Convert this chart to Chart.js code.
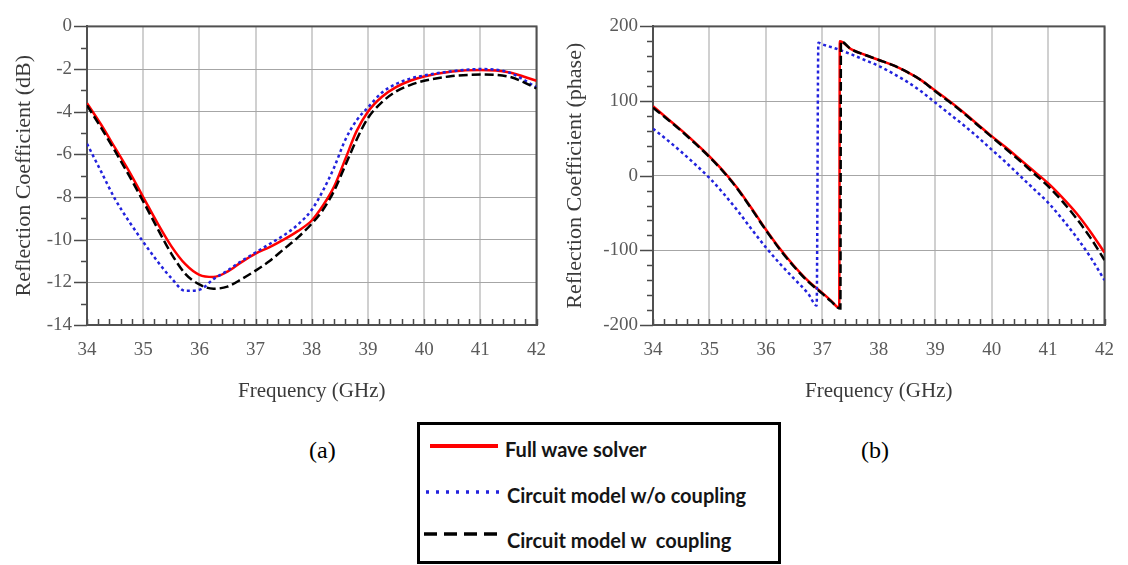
<!DOCTYPE html>
<html>
<head>
<meta charset="utf-8">
<script src="https://cdn.jsdelivr.net/npm/chart.js@4.4.1/dist/chart.umd.min.js"></script>
<style>
  html, body { margin: 0; padding: 0; background: #fff; }
  body { width: 1128px; height: 565px; position: relative; overflow: hidden; }
  canvas { position: absolute; top: 0; }
  #cA { left: 0; }
  #cB { left: 560px; }
  .sub { position: absolute; font-family: "Liberation Serif", "DejaVu Serif", serif; font-size: 24px; color: #000; }
  #legend { position: absolute; left: 417px; top: 422px; width: 364px; height: 142px; border: 3px solid #000; box-sizing: border-box; }
  .lt { position: absolute; font-family: Lato, "Liberation Sans", sans-serif; font-weight: bold; font-size: 20px; color: #151515; white-space: pre; line-height: 1; }
  .ls { position: absolute; }
</style>
</head>
<body>
<canvas id="cA" width="560" height="420"></canvas>
<canvas id="cB" width="568" height="420"></canvas>
<div class="sub" style="left:309px; top:437px;">(a)</div>
<div class="sub" style="left:861px; top:437px;">(b)</div>
<div id="legend"></div>
<script>
// ---------------- data ----------------
const seriesNames = ['Full wave solver', 'Circuit model w/o coupling', 'Circuit model w  coupling'];

// (a) magnitude, dB
const dbFreq = [34, 34.25, 34.5, 34.75, 35, 35.25, 35.5, 35.75, 36, 36.25, 36.5, 36.75, 37, 37.25, 37.5, 37.75, 38, 38.2, 38.4, 38.6, 38.8, 39, 39.25, 39.5, 39.75, 40, 40.5, 41, 41.5, 42];
const dbFull = [-3.6, -4.6, -5.7, -6.8, -8.0, -9.2, -10.3, -11.15, -11.65, -11.75, -11.5, -11.05, -10.65, -10.35, -10.0, -9.6, -9.1, -8.4, -7.5, -6.2, -4.9, -4.0, -3.3, -2.85, -2.55, -2.35, -2.12, -2.05, -2.15, -2.55];
const dbNoCoupling = [-5.5, -6.8, -8.1, -9.15, -10.1, -11.0, -11.8, -12.4, -12.35, -11.85, -11.45, -11.0, -10.6, -10.2, -9.8, -9.3, -8.6, -7.7, -6.6, -5.3, -4.4, -3.8, -3.1, -2.7, -2.45, -2.3, -2.1, -2.0, -2.15, -2.85];
const dbCoupling = [-3.7, -4.75, -5.85, -7.0, -8.2, -9.45, -10.65, -11.6, -12.1, -12.3, -12.2, -11.85, -11.45, -11.0, -10.45, -9.9, -9.25, -8.6, -7.7, -6.5, -5.3, -4.3, -3.55, -3.05, -2.75, -2.55, -2.33, -2.26, -2.35, -2.9];

// (b) phase, degrees (vertical wrap points repeated)
const phFreqFull = [34, 34.25, 34.5, 34.75, 35, 35.25, 35.5, 35.75, 36, 36.25, 36.5, 36.75, 37, 37.15, 37.3, 37.31, 37.5, 37.75, 38, 38.25, 38.5, 38.75, 39, 39.25, 39.5, 39.75, 40, 40.25, 40.5, 40.75, 41, 41.25, 41.5, 41.75, 42];
const phFull = [93, 77, 61, 44, 26, 6, -17, -44, -72, -98, -121, -141, -157, -167, -177, 180, 170, 162, 155, 148, 139, 128, 114, 100, 85, 69, 53, 38, 22, 6, -10, -29, -50, -75, -103];
const phFreqNoCoupling = [34, 34.25, 34.5, 34.75, 35, 35.25, 35.5, 35.75, 36, 36.25, 36.5, 36.75, 36.9, 36.93, 37, 37.25, 37.5, 37.75, 38, 38.25, 38.5, 38.75, 39, 39.25, 39.5, 39.75, 40, 40.25, 40.5, 40.75, 41, 41.25, 41.5, 41.75, 42];
const phNoCoupling = [63, 48, 32, 15, -3, -24, -47, -72, -96, -118, -138, -158, -174, 178, 176, 170, 163, 155, 147, 137, 126, 113, 98, 83, 68, 52, 35, 18, 0, -18, -36, -58, -82, -109, -140];
const phFreqCoupling = [34, 34.25, 34.5, 34.75, 35, 35.25, 35.5, 35.75, 36, 36.25, 36.5, 36.75, 37, 37.15, 37.32, 37.33, 37.5, 37.75, 38, 38.25, 38.5, 38.75, 39, 39.25, 39.5, 39.75, 40, 40.25, 40.5, 40.75, 41, 41.25, 41.5, 41.75, 42];
const phCoupling = [91, 76, 60, 43, 25, 5, -18, -45, -73, -99, -122, -142, -158, -168, -178, 180, 170, 162, 155, 148, 139, 128, 113, 99, 84, 68, 52, 36, 20, 3, -14, -34, -57, -83, -113];

const xTicksMajor = [34, 35, 36, 37, 38, 39, 40, 41, 42];
const dbTicks = [0, -2, -4, -6, -8, -10, -12, -14];
const phTicks = [200, 100, 0, -100, -200];

// ---------------- styling ----------------
const COL = ['#ff0000', '#2222dd', '#000000'];
const DASH = [[], [3, 3], [9, 4]];
const WID = [2.5, 2.5, 2.5];
const ORD = [3, 2, 1];

const pts = (xs, ys) => xs.map((x, i) => ({ x: x, y: ys[i] }));
const isInt = v => Math.abs(v - Math.round(v)) < 1e-6;

const decor = {
  id: 'decor',
  beforeDatasetsDraw(chart, args, opts) {
    const { ctx, chartArea: a, scales: { x, y } } = chart;
    ctx.save();
    ctx.strokeStyle = '#4a4a4a';
    ctx.lineWidth = 1.5;
    x.ticks.forEach(t => {
      const px = Math.round(x.getPixelForValue(t.value)) + 0.5;
      ctx.beginPath(); ctx.moveTo(px, a.bottom); ctx.lineTo(px, a.bottom - 6); ctx.stroke();
    });
    y.ticks.forEach(t => {
      const py = Math.round(y.getPixelForValue(t.value)) + 0.5;
      const major = Math.abs(t.value % opts.major) < 1e-6;
      ctx.beginPath(); ctx.moveTo(a.left, py); ctx.lineTo(a.left - (major ? 13 : 6), py); ctx.stroke();
    });
    ctx.strokeStyle = '#505050';
    ctx.lineWidth = 2;
    ctx.strokeRect(a.left, a.top, a.right - a.left, a.bottom - a.top);
    ctx.restore();
  }
};

function makeChart(id, datasets, yMin, yMax, yStep, yMajor, yTitle, padRight, yWidth, yTitlePad) {
  return new Chart(document.getElementById(id), {
    type: 'line',
    data: { datasets: datasets },
    plugins: [decor],
    options: {
      responsive: false,
      animation: false,
      devicePixelRatio: 1,
      layout: { padding: { left: 0, right: padRight, top: 15, bottom: 0 } },
      plugins: { legend: { display: false }, tooltip: { enabled: false }, decor: { major: yMajor } },
      elements: { point: { radius: 0 } },
      scales: {
        x: {
          type: 'linear', min: 34, max: 42,
          afterFit: s => { s.height = 95; },
          ticks: {
            stepSize: 0.2, autoSkip: false, maxRotation: 0, padding: 14,
            color: '#5a5a5a', font: { family: 'Liberation Serif', size: 19 },
            callback: v => (isInt(v) && xTicksMajor.includes(Math.round(v))) ? String(Math.round(v)) : ''
          },
          grid: {
            drawTicks: false,
            color: c => (c.tick && isInt(c.tick.value)) ? '#d0d0d0' : 'rgba(0,0,0,0)',
            lineWidth: 2
          },
          border: { color: '#505050', width: 2 },
          title: { display: true, text: 'Frequency (GHz)', color: '#3a3a3a', font: { family: 'Liberation Serif', size: 21 }, padding: { top: 0, bottom: 16 } }
        },
        y: {
          type: 'linear', min: yMin, max: yMax,
          afterFit: s => { s.width = yWidth; },
          ticks: {
            stepSize: yStep, autoSkip: false, padding: 15,
            color: '#5a5a5a', font: { family: 'Liberation Serif', size: 19 },
            callback: v => {
              const r = Math.round(v);
              return (Math.abs(r % yMajor) === 0 && (yMajor === 2 ? dbTicks : phTicks).includes(r)) ? String(r) : '';
            }
          },
          grid: {
            drawTicks: false,
            color: c => (c.tick && Math.abs(Math.round(c.tick.value) % yMajor) === 0) ? '#a6a6a6' : 'rgba(0,0,0,0)',
            lineWidth: 1
          },
          border: { color: '#505050', width: 2 },
          title: { display: true, text: yTitle, color: '#3a3a3a', font: { family: 'Liberation Serif', size: 22 }, padding: { top: yTitlePad, bottom: 0 } }
        }
      }
    }
  });
}

function ds(i, data) {
  return {
    label: seriesNames[i], data: data, borderColor: COL[i], borderDash: DASH[i], borderWidth: WID[i],
    backgroundColor: COL[i], fill: false, order: ORD[i], pointRadius: 0, cubicInterpolationMode: 'monotone'
  };
}

makeChart('cA', [
  ds(0, pts(dbFreq, dbFull)),
  ds(1, pts(dbFreq, dbNoCoupling)),
  ds(2, pts(dbFreq, dbCoupling))
], -14, 0, 1, 2, 'Reflection Coefficient (dB)', 15, 87, 11);

makeChart('cB', [
  ds(0, pts(phFreqFull, phFull)),
  ds(1, pts(phFreqNoCoupling, phNoCoupling)),
  ds(2, pts(phFreqCoupling, phCoupling))
], -200, 200, 20, 100, 'Reflection Coefficient (phase)', 17, 93, 2);

// ---------------- legend ----------------
const legend = document.getElementById('legend');
const legendRows = [
  { x1: 10, x2: 78, y: 21, text: 0, tx: 85, ty: 14 },
  { x1: 6, x2: 82, y: 67, text: 1, tx: 87, ty: 60 },
  { x1: 4, x2: 78, y: 109, text: 2, tx: 87, ty: 105 }
];
const legDash = ['', '3 7', '13 7'];
const legW = [4, 3.5, 3.5];
legendRows.forEach(r => {
  const svg = document.createElementNS('http://www.w3.org/2000/svg', 'svg');
  svg.setAttribute('class', 'ls');
  svg.setAttribute('width', '90'); svg.setAttribute('height', '136');
  svg.style.left = '0px'; svg.style.top = '0px';
  const ln = document.createElementNS('http://www.w3.org/2000/svg', 'line');
  ln.setAttribute('x1', r.x1); ln.setAttribute('x2', r.x2);
  ln.setAttribute('y1', r.y); ln.setAttribute('y2', r.y);
  ln.setAttribute('stroke', COL[r.text]);
  ln.setAttribute('stroke-width', legW[r.text]);
  if (legDash[r.text]) ln.setAttribute('stroke-dasharray', legDash[r.text]);
  svg.appendChild(ln);
  legend.appendChild(svg);
  const sp = document.createElement('div');
  sp.className = 'lt';
  sp.style.left = r.tx + 'px'; sp.style.top = r.ty + 'px';
  sp.textContent = seriesNames[r.text];
  legend.appendChild(sp);
});
</script>
</body>
</html>
